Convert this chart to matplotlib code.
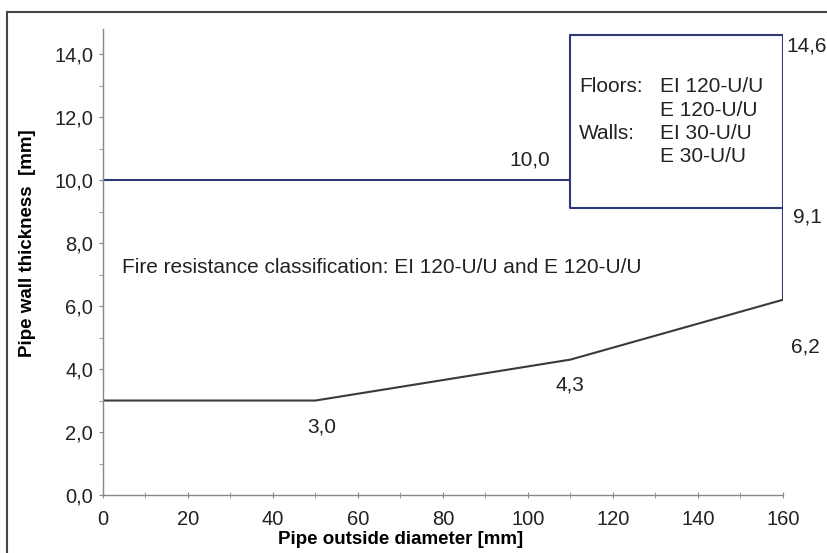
import matplotlib
matplotlib.use('Agg')
import matplotlib.pyplot as plt
from matplotlib.ticker import MultipleLocator, FuncFormatter
from matplotlib.patches import Rectangle

# lower limit (min wall thickness) and upper limit (max wall thickness)
low_x = [0, 50, 110, 160]
low_y = [3.0, 3.0, 4.3, 6.2]
up_x = [0, 110, 110, 160, 160, 110, 110]
up_y = [10.0, 10.0, 14.6, 14.6, 9.1, 9.1, 10.0]
edge_x = [160, 160]
edge_y = [9.1, 6.2]

point_labels = ['10,0', '14,6', '9,1', '6,2', '4,3', '3,0']
label_pos = [(100.5, 10.64), (165.5, 14.25), (165.8, 8.83), (165.3, 4.7), (110, 3.49), (51.5, 2.16)]

plt.rcParams['font.family'] = ['Liberation Sans', 'DejaVu Sans']

fig = plt.figure(figsize=(8.27, 5.53), dpi=100)
ax = fig.add_axes([0.1245, 0.1049, 0.8222, 0.8427])

navy = '#2e3a78'
dark = '#3a3a3a'
ax.plot(up_x, up_y, color=navy, lw=1.5)
ax.plot(edge_x, edge_y, color=navy, lw=1.5)
ax.plot(low_x, low_y, color=dark, lw=1.5)

fs = 15
for txt, (x, y) in zip(point_labels, label_pos):
    ax.text(x, y, txt, fontsize=fs, ha='center', va='center', color='#222222', clip_on=False)

ax.text(4.5, 7.21, 'Fire resistance classification: EI 120-U/U and E 120-U/U',
        fontsize=fs, va='center', color='#222222')

box_rows = [('Floors:', 'EI 120-U/U'), ('', 'E 120-U/U'), ('Walls:', 'EI 30-U/U'), ('', 'E 30-U/U')]
for i, (a, b) in enumerate(box_rows):
    yy = 12.96 - i * 0.74
    ax.text(112.0, yy, a, fontsize=fs, va='center', color='#222222')
    ax.text(131.0, yy, b, fontsize=fs, va='center', color='#222222')

ax.set_xlim(0, 160)
ax.set_ylim(0, 14.8)
ax.xaxis.set_major_locator(MultipleLocator(20))
ax.xaxis.set_minor_locator(MultipleLocator(10))
ax.yaxis.set_major_locator(MultipleLocator(2))
ax.yaxis.set_minor_locator(MultipleLocator(1))
ax.yaxis.set_major_formatter(FuncFormatter(lambda v, p: f'{v:.1f}'.replace('.', ',')))
ax.set_yticks([0, 2, 4, 6, 8, 10, 12, 14])

for s in ['top', 'right']:
    ax.spines[s].set_visible(False)
for s in ['left', 'bottom']:
    ax.spines[s].set_color('#888888')
    ax.spines[s].set_linewidth(1.0)

ax.tick_params(axis='both', which='both', color='#888888', labelsize=14.5, labelcolor='#222222')
ax.tick_params(axis='x', which='both', direction='inout', length=4, pad=9)
ax.tick_params(axis='y', which='both', direction='out', length=3, pad=4)

ax.set_xlabel('Pipe outside diameter [mm]', fontsize=13.5, fontweight='bold')
ax.set_ylabel('Pipe wall thickness  [mm]', fontsize=13.5, fontweight='bold')
ax.xaxis.set_label_coords(0.437, -0.078)
ax.yaxis.set_label_coords(-0.098, 0.54)

# outer frame
fig.patches.append(Rectangle((0.009, -0.01), 1.0, 0.989, transform=fig.transFigure,
                             fill=False, edgecolor='#444444', lw=1.5))

plt.savefig('out.png', dpi=100)
plt.close(fig)
